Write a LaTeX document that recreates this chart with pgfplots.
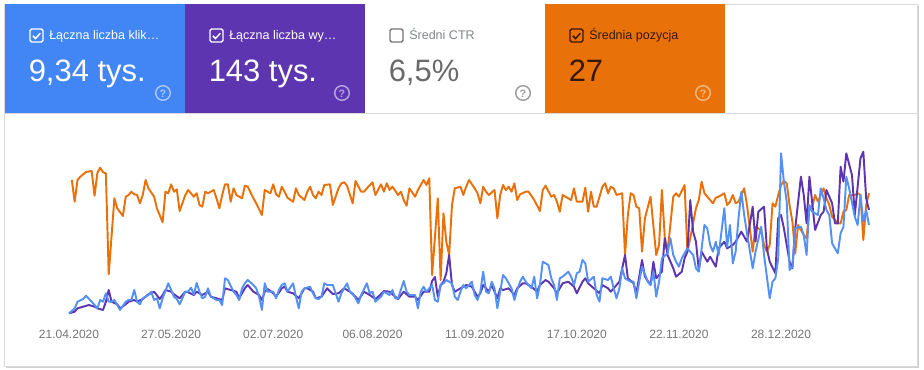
\documentclass[border=0pt]{standalone}
\usepackage{fontspec}
\setmainfont{Liberation Sans}
\usepackage{pgfplots}
\usepackage{pgfplotstable}
\pgfplotsset{compat=1.18}
\definecolor{gblue}{HTML}{4285F4}
\definecolor{gpurple}{HTML}{5E35B1}
\definecolor{gorange}{HTML}{E8710A}
\definecolor{tickgray}{HTML}{757575}
\definecolor{titlegray}{HTML}{80868B}
\definecolor{valgray}{HTML}{6A6A6A}
\definecolor{darkbrown}{HTML}{3A1800}
\definecolor{framegray}{HTML}{D9D9D9}
\definecolor{iconblue}{HTML}{A9C7FA}
\definecolor{iconpurple}{HTML}{B7A3DE}
\definecolor{icongray}{HTML}{9E9E9E}
\definecolor{iconorange}{HTML}{F6B67C}

% day index (0 = 21.04.2020), pixel-height value (larger = lower)
\pgfplotstableread{
d y
1 180
2 201.7
3 180
4 176.7
6 172
8 171
9 195.7
10 173
11 167.7
12 172.3
13 173.3
14 274.3
16 198.3
17 208.3
19 216
20 196.7
21 195
22 191.7
23 194.3
24 195
25 203.3
26 195
27 180
28 188.3
30 196.7
31 208.3
33 222.3
34 191.7
35 193.3
36 184.3
37 191.7
38 189.3
39 211
41 195
42 190
44 196.7
45 193.3
46 205
47 206.7
48 191.7
49 193.3
51 190
52 198.3
53 208.3
54 195
55 184.3
56 184.3
57 201.7
58 188.3
59 195
61 198.3
62 185.7
63 186.7
65 198.3
66 203.3
68 215
69 190
71 193.3
72 184.3
73 194.3
74 196.7
75 186.7
76 191.7
77 197.7
79 201.7
80 188.3
81 195
83 200
84 191.7
85 186.7
86 195
87 198.3
88 191.7
89 195
90 185
92 184.3
93 205
95 188.3
96 183.3
97 182.3
98 185.7
100 203.3
101 181
103 191.7
104 191.7
105 188.3
107 182.3
108 195
110 184.3
111 191.7
112 183.3
113 190
114 186.7
116 195
117 191.7
118 200
119 205.7
120 188.3
122 196.7
123 190
125 180
126 185
127 178.3
128 275
130 198.3
131 280
132 213.3
133 241.7
134 255
135 205
136 188.3
138 186.7
139 195
140 186.7
141 180
143 188.3
144 193.3
145 203.3
146 186.7
147 191.7
148 195
150 190
151 218.3
152 195
153 185
154 190
155 186.7
156 191.7
157 183.3
158 200
159 194.3
161 191.7
162 191.7
164 200
166 211
167 190
168 185.7
170 196.7
171 195
172 201.7
173 211.7
174 195
176 198.3
177 200
178 188.3
179 201.7
181 201.7
182 187.7
183 211.7
184 191.7
185 206.7
186 206.7
188 186.7
189 183.3
190 193.3
191 186.7
192 188.3
193 195
195 193.3
196 255
197 215
198 193.3
199 195
200 206.7
201 208.3
202 251.7
203 218.3
205 196.7
207 255
208 245
209 190
210 236.7
211 251.7
213 196.7
214 193.3
215 196.7
217 185
218 251.7
219 238.3
221 208.3
222 200
223 181.7
224 193.3
225 196.7
227 203.3
228 197.7
229 196.7
231 193.3
232 205
233 201.7
234 195
235 203.3
236 201.7
238 188.3
239 205
240 228.3
241 251.7
242 226.7
244 230
245 245
246 251.7
247 245
248 203.3
249 206.7
250 195
251 185
252 181
253 183.3
254 205
255 221.7
256 253.3
257 225
259 235
260 238.3
261 208.3
262 206.7
263 195
264 201.7
266 188.3
267 198.3
268 205
269 216.7
271 223.3
272 223.3
273 211.7
274 210
275 195
277 195
278 193.3
279 195
280 240
281 205
282 193.3
}\orangedata

\pgfplotstableread{
d y
0 313.3
1 311
2 308.3
3 301.7
5 299
6 295.7
8 301.7
9 305
10 308.3
11 300
12 301.7
13 293.3
14 301.7
15 301.7
16 300
17 305
18 310
20 301.7
21 300
22 300
23 290
24 301.7
25 304.3
26 298.3
28 295
29 291.7
30 300
31 298.3
32 308.3
33 298.3
35 283.3
36 290
37 296.7
38 299
39 304.3
41 291.7
42 291.7
43 287.7
44 294.3
45 283
46 291.7
47 298.3
48 296.7
49 288.3
50 296.7
52 300
53 300
54 305
55 278.3
56 280
58 291.7
59 295
60 300
61 288.3
62 283.3
63 280
65 285
66 288.3
67 296.7
68 310
69 283.3
70 291.7
72 291.7
73 298.3
74 290
75 285
76 283.3
77 291.7
79 283.3
80 296.7
81 308.3
82 291.7
83 288.3
85 286.7
86 293.3
87 298.3
88 299
89 296.7
90 283.3
91 285
93 285
95 301.7
96 293.3
98 283.3
99 291.7
100 293.3
102 303.3
103 295
105 283.3
106 293.3
107 291.7
108 301.7
110 296.7
111 291.7
113 295
114 290
115 298.3
116 298.3
118 281
119 291.7
120 295
122 295
123 308.3
124 291.7
125 286.7
126 291.7
128 285
129 300
130 301.7
131 285
132 283.3
133 280
135 283.3
136 296.7
137 300
138 291.7
139 285
140 288.3
142 281.7
143 295
144 300
145 291.7
146 271.7
147 291.7
148 293.3
149 281.7
150 288.3
151 308.3
152 291.7
153 275
154 278.3
156 288.3
157 300
158 290
159 281.7
160 276.7
161 281.7
163 288.3
164 276.7
165 298.3
166 285
167 261.7
169 265
170 278.3
171 285
172 300
173 278.3
174 276.7
176 271.7
177 276.7
178 285
179 273.3
180 271.7
181 260
182 263.3
183 281.7
185 276.7
186 295
187 301.7
188 278.3
190 280
191 276.7
192 288.3
193 298.3
194 288.3
195 268.3
196 278.3
198 281.7
199 281.7
200 298.3
201 281.7
202 266.7
204 281.7
205 285
206 271.7
207 296.7
208 281.7
209 258.3
211 253.3
212 238.3
213 255
214 261.7
215 266.7
216 258.3
218 248.3
219 251.7
220 255
221 268.3
222 271.7
224 225
225 228.3
226 245
227 251.7
228 241.7
229 255
231 208.3
232 246.7
233 225
234 263.3
235 251.7
236 218.3
237 191.7
238 215
239 233.3
241 268.3
242 251.7
244 226.7
245 255
247 298.3
248 281.7
249 278.3
250 258.3
251 153.3
252 181.7
253 201.7
254 270
255 266.7
256 228.3
258 226.7
259 235
260 255
261 205
262 211.7
264 215
265 188.3
266 198.3
267 210
268 215
269 243.3
271 253.3
272 233.3
273 226.7
274 176.7
275 188.3
277 216.7
278 225
279 195
280 221.7
281 210
282 225
}\bluedata

\pgfplotstableread{
d y
0 313.3
2 311.7
3 308.3
5 306.7
7 305
9 306.7
10 308.3
12 310
13 301.7
14 290
15 301.7
17 304.3
18 308.3
20 304.3
21 301.7
23 300
24 301.7
26 299
28 294.3
29 293.3
30 291.7
32 299
33 295
34 290
36 291.7
37 294.3
39 298.3
41 291.7
42 292.3
44 295
45 291.7
47 295
49 291.7
50 296.7
52 298.3
54 300
55 288.3
57 290
59 291.7
60 298.3
62 288.3
63 285
65 291.7
67 295
68 300
69 291.7
70 289
72 293.3
73 296.7
75 288.3
76 286.7
77 291.7
79 293.3
81 298.3
83 288.3
84 288.3
86 291.7
87 298.3
89 296.7
91 288.3
93 294
95 293.3
97 288.3
99 291.7
101 296.7
102 300
104 291.7
106 295
108 299
109 296.7
111 291
113 291.7
115 296.7
116 299
118 291.7
120 296.7
122 296.7
123 300
125 291.7
127 291.7
128 281
129 277
130 296.7
131 285
132 281.7
133 273.3
134 255
135 285
136 291.7
138 288.3
140 285
142 286.7
144 296.7
145 293.3
146 285
148 291.7
149 285
151 298.3
152 288.3
153 290
155 288.3
157 295
158 288.3
160 283.3
161 283.3
163 286.7
165 291.7
166 285
168 280
169 281.7
171 288.3
172 293.3
174 283.3
176 281.7
178 286.7
179 293.3
181 281.7
182 278.3
183 283.3
185 288.3
187 293.3
188 285
190 288.3
191 291.7
193 285
194 281.7
196 255
197 278.3
199 283.3
200 293.3
202 260
203 276.7
205 285
206 261.7
207 278.3
209 271.7
210 238.3
211 255
213 268.3
214 276.7
216 271.7
217 258.3
218 251.7
219 200
220 231.7
221 241.7
222 270
223 251.7
225 261.7
226 256.7
228 266.7
229 248.3
231 241.7
232 248.3
234 245
235 241.7
237 231.7
238 236.7
239 241.7
241 206.7
242 241.7
243 211.7
245 206.7
246 248.3
247 261.7
249 273.3
250 218.3
251 215
252 228.3
254 261.7
255 268.3
256 228.3
258 176.7
259 195
260 223.3
261 176.7
262 203.3
263 230
265 215
266 211.7
267 190
269 203.3
270 223.3
271 223.3
272 166.7
273 181.7
274 153.3
276 175
277 215
279 158.3
280 151.7
281 198.3
282 210
}\purpledata

\begin{document}
\begin{tikzpicture}
\begin{scope}[x=0.75pt,y=-0.75pt]
  % canvas and panel
  \fill[white] (0,0) rectangle (924,370);
  \fill[black!18] (6,6) rectangle (918.5,367.5);
  \fill[white] (4.5,4.5) rectangle (917,366);
  \draw[framegray, line width=0.6pt] (4.5,4.5) rectangle (917,366);
  % cards
  \fill[gblue] (5,4) rectangle (185,113);
  \fill[gpurple] (185,4) rectangle (365,113);
  \fill[white] (365,4) rectangle (545,113);
  \fill[gorange] (545,4) rectangle (725,113);
  \draw[framegray, line width=0.75pt] (5,113.5) -- (917,113.5);
  % checkboxes
  \draw[white, line width=1.1pt, rounded corners=1.2pt] (30,29) rectangle (43,42);
  \draw[white, line width=1.1pt] (32.8,35.8) -- (35.5,38.5) -- (40.3,33.3);
  \draw[white, line width=1.1pt, rounded corners=1.2pt] (210,29) rectangle (223,42);
  \draw[white, line width=1.1pt] (212.8,35.8) -- (215.5,38.5) -- (220.3,33.3);
  \draw[tickgray, line width=1.1pt, rounded corners=1.2pt] (390,29) rectangle (403,42);
  \draw[darkbrown, line width=1.1pt, rounded corners=1.2pt] (570,29) rectangle (583,42);
  \draw[darkbrown, line width=1.1pt] (572.8,35.8) -- (575.5,38.5) -- (580.3,33.3);
  % titles
  \node[anchor=base west, inner sep=0pt, text=white, font=\fontsize{9.4}{11}\selectfont] at (49,40) {Łączna liczba klik…};
  \node[anchor=base west, inner sep=0pt, text=white, font=\fontsize{9.4}{11}\selectfont] at (229,40) {Łączna liczba wy…};
  \node[anchor=base west, inner sep=0pt, text=titlegray, font=\fontsize{9.4}{11}\selectfont] at (409,40) {Średni CTR};
  \node[anchor=base west, inner sep=0pt, text=darkbrown, font=\fontsize{9.4}{11}\selectfont] at (589,40) {Średnia pozycja};
  % values
  \node[anchor=base west, inner sep=0pt, text=white, font=\fontsize{23.2}{26}\selectfont] at (28.5,82) {9,34 tys.};
  \node[anchor=base west, inner sep=0pt, text=white, font=\fontsize{23.2}{26}\selectfont] at (208.5,82) {143 tys.};
  \node[anchor=base west, inner sep=0pt, text=valgray, font=\fontsize{23.2}{26}\selectfont] at (388.5,82) {6,5\%};
  \node[anchor=base west, inner sep=0pt, text=darkbrown, font=\fontsize{23.2}{26}\selectfont] at (568.5,82) {27};
  % help icons
  \foreach \cx/\col in {163/iconblue, 342/iconpurple, 523/icongray, 703/iconorange} {
    \draw[\col, line width=1.1pt] (\cx,93) circle (7.3);
    \node[text=\col, inner sep=0pt, font=\bfseries\fontsize{8}{8}\selectfont] at (\cx,93.3) {?};
  }
\end{scope}
\begin{axis}[
  at={(51.75pt,-240pt)}, anchor=south west,
  scale only axis, width=608.5pt, height=135pt,
  xmin=0, xmax=286, ymin=140, ymax=320, y dir=reverse,
  axis line style={draw=none},
  ytick=\empty,
  xtick={0,36,72,107,143,179,215,251},
  xticklabels={21.04.2020,27.05.2020,02.07.2020,06.08.2020,11.09.2020,17.10.2020,22.11.2020,28.12.2020},
  major tick length=0pt,
  xticklabel style={font=\fontsize{9}{10}\selectfont, text=tickgray, anchor=base, yshift=-13.5pt},
  clip=false,
  every axis plot/.append style={line width=1.45pt, line join=round, no markers},
]
\addplot[gorange] table[x=d,y=y] {\orangedata};
\addplot[gpurple] table[x=d,y=y] {\purpledata};
\addplot[gblue!90!white] table[x=d,y=y] {\bluedata};
\end{axis}
\end{tikzpicture}
\end{document}
